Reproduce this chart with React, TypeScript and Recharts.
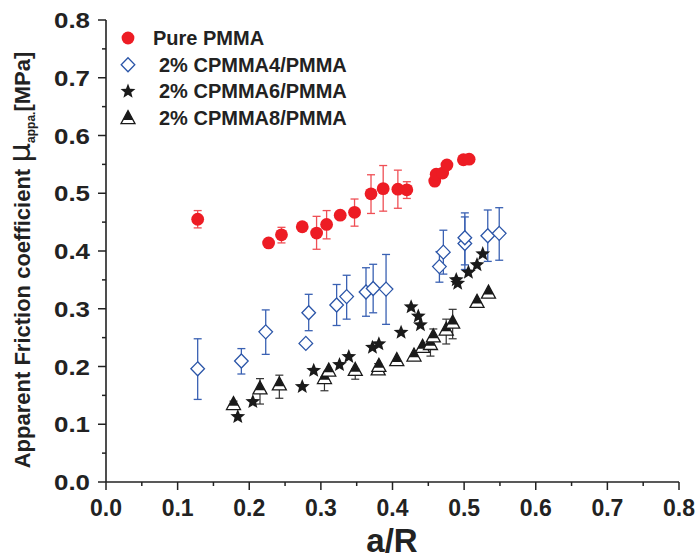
import React from 'react';
import { ScatterChart, Scatter, XAxis, YAxis, ErrorBar } from 'recharts';

// Pure PMMA (red circles)
const pmmaX = [0.128, 0.227, 0.245, 0.274, 0.294, 0.308, 0.327, 0.347, 0.370, 0.387, 0.4075, 0.420, 0.459, 0.461, 0.470, 0.476, 0.499, 0.507];
const pmmaY = [0.455, 0.414, 0.428, 0.442, 0.431, 0.446, 0.462, 0.467, 0.499, 0.508, 0.507, 0.506, 0.521, 0.533, 0.535, 0.549, 0.558, 0.559];
const pmmaLo = [0.440, null, 0.414, null, 0.403, 0.421, null, 0.443, 0.465, 0.469, 0.474, 0.491, null, null, null, null, null, null];
const pmmaHi = [0.470, null, 0.441, null, 0.460, 0.470, null, 0.490, 0.532, 0.548, 0.540, 0.520, null, null, null, null, null, null];

// 2% CPMMA4/PMMA (blue open diamonds)
const cp4X = [0.128, 0.189, 0.223, 0.279, 0.283, 0.322, 0.336, 0.363, 0.373, 0.391, 0.4655, 0.471, 0.501, 0.501, 0.533, 0.549];
const cp4Y = [0.196, 0.2095, 0.260, 0.240, 0.293, 0.3065, 0.321, 0.329, 0.335, 0.334, 0.373, 0.398, 0.413, 0.423, 0.4265, 0.4306];
const cp4Lo = [0.143, 0.187, 0.221, null, 0.262, 0.271, 0.282, 0.287, 0.293, 0.273, 0.346, 0.360, 0.368, 0.376, 0.382, 0.384];
const cp4Hi = [0.248, 0.231, 0.298, null, 0.325, 0.342, 0.358, 0.371, 0.377, 0.394, 0.399, 0.436, 0.459, 0.466, 0.471, 0.475];

// 2% CPMMA6/PMMA (black stars)
const cp6X = [0.184, 0.205, 0.274, 0.290, 0.326, 0.339, 0.372, 0.381, 0.412, 0.426, 0.436, 0.439, 0.489, 0.491, 0.506, 0.518, 0.526];
const cp6Y = [0.113, 0.139, 0.165, 0.193, 0.203, 0.217, 0.233, 0.239, 0.259, 0.303, 0.287, 0.272, 0.350, 0.344, 0.363, 0.376, 0.395];

// 2% CPMMA8/PMMA (half filled triangles)
const cp8X = [0.178, 0.215, 0.242, 0.305, 0.311, 0.348, 0.380, 0.381, 0.406, 0.430, 0.442, 0.453, 0.457, 0.475, 0.484, 0.518, 0.534];
const cp8Y = [0.135, 0.162, 0.169, 0.180, 0.193, 0.194, 0.195, 0.201, 0.211, 0.219, 0.234, 0.239, 0.252, 0.264, 0.276, 0.312, 0.328];
const cp8Lo = [0.127, 0.135, 0.145, 0.158, null, 0.178, 0.188, null, null, null, null, 0.218, 0.245, 0.239, 0.248, null, null];
const cp8Hi = [0.140, 0.179, 0.185, 0.182, 0.211, 0.196, 0.205, null, null, null, null, 0.240, 0.265, 0.282, 0.299, null, null];

const xTicks = [0, 0.05, 0.1, 0.15, 0.2, 0.25, 0.3, 0.35, 0.4, 0.45, 0.5, 0.55, 0.6, 0.65, 0.7, 0.75, 0.8];
const yTicks = [0, 0.05, 0.1, 0.15, 0.2, 0.25, 0.3, 0.35, 0.4, 0.45, 0.5, 0.55, 0.6, 0.65, 0.7, 0.75, 0.8];

const legendLabels = ['Pure PMMA', '2% CPMMA4/PMMA', '2% CPMMA6/PMMA', '2% CPMMA8/PMMA'];

const RED = '#ed1c24';
const BLUE = '#2b55a8';
const BLACK = '#1a1a1a';
const AXIS = '#222';
const FONT = '"Liberation Sans", Arial, Helvetica, sans-serif';

const buildRows = (xs: number[], ys: number[], lo?: (number | null)[], hi?: (number | null)[]) =>
  xs.map((x, i) => ({
    x,
    y: ys[i],
    err: lo && lo[i] != null ? [ys[i] - (lo[i] as number), (hi![i] as number) - ys[i]] : null,
  }));

const pmmaData = buildRows(pmmaX, pmmaY, pmmaLo, pmmaHi);
const cp4Data = buildRows(cp4X, cp4Y, cp4Lo, cp4Hi);
const cp6Data = buildRows(cp6X, cp6Y);
const cp8Data = buildRows(cp8X, cp8Y, cp8Lo, cp8Hi);

const isMajor = (v: number) => Math.round(v * 100) % 10 === 0;

// markers
const Circle = ({ cx, cy }: any) => <circle cx={cx} cy={cy} r={6.4} fill={RED} />;

const Diamond = ({ cx, cy }: any) => (
  <path d={`M${cx},${cy - 7} L${cx + 6.8},${cy} L${cx},${cy + 7} L${cx - 6.8},${cy} Z`}
    fill="#fff" stroke={BLUE} strokeWidth={1.3} />
);

const Star = ({ cx, cy }: any) => {
  const pts: string[] = [];
  for (let i = 0; i < 10; i++) {
    const r = i % 2 === 0 ? 7.8 : 3.4;
    const a = -Math.PI / 2 + (i * Math.PI) / 5;
    pts.push(`${cx + r * Math.cos(a)},${cy + r * Math.sin(a)}`);
  }
  return <polygon points={pts.join(' ')} fill={BLACK} />;
};

const Triangle = ({ cx, cy }: any) => (
  <g>
    <path d={`M${cx},${cy - 7.5} L${cx + 7},${cy + 5.5} L${cx - 7},${cy + 5.5} Z`} fill="#fff" stroke={BLACK} strokeWidth={1.3} />
    <path d={`M${cx},${cy - 7.5} L${cx + 5},${cy + 1.8} L${cx - 5},${cy + 1.8} Z`} fill={BLACK} />
  </g>
);

// axis ticks
const BottomTick = ({ x, y, payload }: any) => {
  const major = isMajor(payload.value);
  return (
    <g>
      <line x1={x} y1={y} x2={x} y2={y + (major ? 8 : 4)} stroke={AXIS} strokeWidth={1.5} />
      {major && (
        <text x={x} y={y + 34} textAnchor="middle" fontSize={23} fontWeight="bold" fontFamily={FONT} fill={AXIS}>
          {payload.value.toFixed(1)}
        </text>
      )}
    </g>
  );
};

const LeftTick = ({ x, y, payload }: any) => {
  const major = isMajor(payload.value);
  return (
    <g>
      <line x1={x} y1={y} x2={x - (major ? 8 : 4)} y2={y} stroke={AXIS} strokeWidth={1.5} />
      {major && (
        <text x={x - 16} y={y + 8} textAnchor="end" fontSize={22} fontWeight="bold" fontFamily={FONT} fill={AXIS}
          textLength={36} lengthAdjust="spacingAndGlyphs">
          {payload.value.toFixed(1)}
        </text>
      )}
    </g>
  );
};

const TopTick = ({ x, y, payload }: any) => (
  <line x1={x} y1={y} x2={x} y2={y + (isMajor(payload.value) ? 6 : 4)} stroke={AXIS} strokeWidth={1.5} />
);

const RightTick = ({ x, y, payload }: any) => (
  <line x1={x} y1={y} x2={x - (isMajor(payload.value) ? 6 : 4)} y2={y} stroke={AXIS} strokeWidth={1.5} />
);

const YTitle = () => (
  <text transform="translate(30,260) rotate(-90)" textAnchor="middle" fontFamily={FONT} fill={AXIS}>
    <tspan fontSize={22} fontWeight="bold">Apparent Friction coefficient </tspan>
    <tspan fontSize={31} fontFamily='"DejaVu Sans", sans-serif'>μ</tspan>
    <tspan fontSize={12} fontWeight="bold" dy={5}>appa.</tspan>
    <tspan fontSize={22} fontWeight="bold" dy={-5}>[MPa]</tspan>
  </text>
);

const XTitle = () => (
  <text x={392} y={552} textAnchor="middle" fontFamily={FONT} fontSize={33} fontWeight="bold" fill={AXIS}>
    a/R
  </text>
);

const legendMarkers = [Circle, Diamond, Star, Triangle];

const LegendBox = () => (
  <svg width={699} height={560} style={{ position: 'absolute', left: 0, top: 0, pointerEvents: 'none' }}>
    {legendLabels.map((label, i) => {
      const Marker = legendMarkers[i];
      const cy = 38 + i * 26.7;
      return (
        <g key={label}>
          <Marker cx={128} cy={cy} />
          <text x={i === 0 ? 153 : 159} y={cy + 7} fontFamily={FONT} fontSize={20} fontWeight="bold" fill={AXIS}>
            {label}
          </text>
        </g>
      );
    })}
  </svg>
);

export default function App() {
  const axisLine = { stroke: AXIS, strokeWidth: 1.6 };
  return (
    <div style={{ position: 'absolute', left: 0, top: 0, width: 699, height: 560, background: '#fff' }}>
      <ScatterChart width={699} height={560} margin={{ top: 20, right: 20, bottom: 0, left: 0 }}>
        <XAxis type="number" dataKey="x" xAxisId="bottom" domain={[0, 0.8]} ticks={xTicks} interval={0}
          height={78} axisLine={axisLine} tickLine={false} tickSize={0} tickMargin={0}
          tick={<BottomTick />} label={<XTitle />} allowDataOverflow />
        <XAxis type="number" xAxisId="top" orientation="top" domain={[0, 0.8]} ticks={xTicks} interval={0}
          height={0} axisLine={axisLine} tickLine={false} tickSize={0} tickMargin={0}
          tick={<TopTick />} allowDataOverflow />
        <YAxis type="number" dataKey="y" yAxisId="left" domain={[0, 0.8]} ticks={yTicks} interval={0}
          width={106} axisLine={axisLine} tickLine={false} tickSize={0} tickMargin={0}
          tick={<LeftTick />} label={<YTitle />} allowDataOverflow />
        <YAxis type="number" yAxisId="right" orientation="right" domain={[0, 0.8]} ticks={yTicks} interval={0}
          width={0} axisLine={axisLine} tickLine={false} tickSize={0} tickMargin={0}
          tick={<RightTick />} allowDataOverflow />

        <Scatter data={pmmaData} xAxisId="bottom" yAxisId="left" shape={<Circle />} isAnimationActive={false}>
          <ErrorBar dataKey="err" direction="y" width={4} stroke="#ef4f55" strokeWidth={1.3} />
        </Scatter>
        <Scatter data={cp4Data} xAxisId="bottom" yAxisId="left" shape={<Diamond />} isAnimationActive={false}>
          <ErrorBar dataKey="err" direction="y" width={4} stroke="#3a61b3" strokeWidth={1.3} />
        </Scatter>
        <Scatter data={cp6Data} xAxisId="bottom" yAxisId="left" shape={<Star />} isAnimationActive={false} />
        <Scatter data={cp8Data} xAxisId="bottom" yAxisId="left" shape={<Triangle />} isAnimationActive={false}>
          <ErrorBar dataKey="err" direction="y" width={4} stroke="#333" strokeWidth={1.2} />
        </Scatter>
      </ScatterChart>
      <LegendBox />
    </div>
  );
}
